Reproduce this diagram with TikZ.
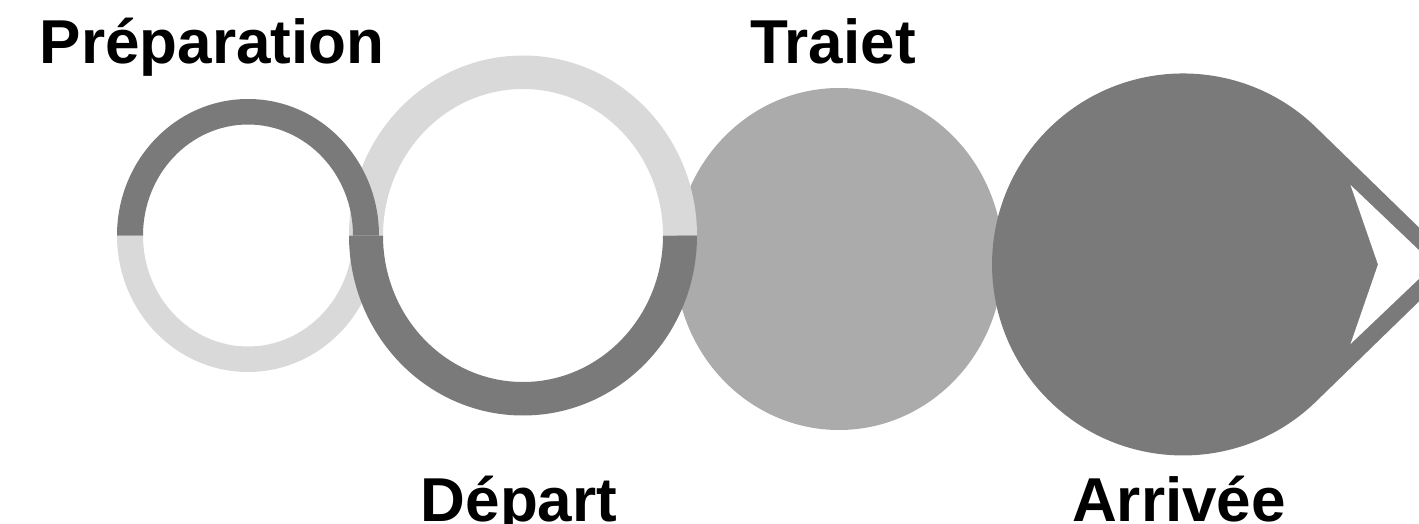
\documentclass[tikz,border=0pt]{standalone}
\usepackage{fontspec}
\setmainfont{Liberation Sans}
\usepackage{tikz}
\usetikzlibrary{positioning}
\definecolor{stepdark}{HTML}{7A7A7A}
\definecolor{steplight}{HTML}{D9D9D9}
\definecolor{stepmid}{HTML}{ABABAB}

\begin{document}
\begin{tikzpicture}[
    x=0.5pt, y=0.5pt,
    label/.style={font=\bfseries\fontsize{31}{31}\selectfont, anchor=base, inner sep=0pt},
    dark/.style={fill=stepdark},
    light/.style={fill=steplight},
    mid/.style={fill=stepmid}
]
\useasboundingbox (0,0) rectangle (1419,-524);
\clip (0,0) rectangle (1419,-524);

% filled discs
\fill[mid] (839,-259) circle [x radius=164, y radius=171];
\fill[dark] (1457,-264.5) -- (1318.1,-129.4)
  arc[start angle=45, end angle=315, radius=191] -- cycle;
\fill[white] (1350.5,-185) -- (1434,-264.5) -- (1350.5,-344) -- (1378,-264.5) -- cycle;

% rings: light halves first
\fill[light] (117,-235.5) arc[start angle=180, end angle=360, x radius=131, y radius=136.5]
  -- ++(-26,0) arc[start angle=360, end angle=180, x radius=105, y radius=111] -- cycle;
\fill[light] (697,-235.5) arc[start angle=0, end angle=180, x radius=174, y radius=180]
  -- ++(34,0) arc[start angle=180, end angle=0, x radius=140, y radius=146.5] -- cycle;
% then dark halves
\fill[dark] (379,-235.5) arc[start angle=0, end angle=180, x radius=131, y radius=136.5]
  -- ++(26,0) arc[start angle=180, end angle=0, x radius=105, y radius=111] -- cycle;
\fill[dark] (349,-235.5) arc[start angle=180, end angle=360, x radius=174, y radius=180]
  -- ++(-34,0) arc[start angle=360, end angle=180, x radius=140, y radius=146.5] -- cycle;

% labels
\node[label] (prep) at (212,-63.3) {Préparation};
\node[label] (traj) at (833,-63.3) {Traiet};
\node[label] (dep) at (519,-521) {Départ};
\node[label] (arr) at (1179,-521) {Arrivée};
\end{tikzpicture}
\end{document}
